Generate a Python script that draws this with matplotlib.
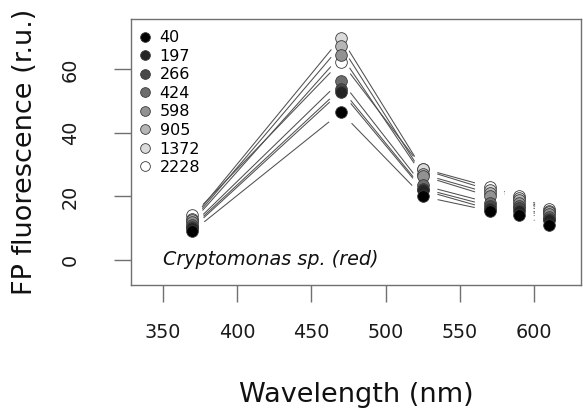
import matplotlib
matplotlib.use("Agg")
import matplotlib.pyplot as plt
import numpy as np
from matplotlib.lines import Line2D

# FluoroProbe excitation wavelengths and one spectrum per light level
wavelengths = [370, 470, 525, 570, 590, 610]
light_levels = ["40", "197", "266", "424", "598", "905", "1372", "2228"]

fp_40 = [9.0, 46.5, 20.0, 15.5, 14.0, 11.0]
fp_197 = [10.0, 53.0, 22.0, 16.0, 15.5, 12.5]
fp_266 = [10.5, 54.0, 22.5, 17.0, 16.5, 13.0]
fp_424 = [11.0, 56.5, 23.5, 18.0, 17.0, 13.5]
fp_598 = [12.0, 64.5, 26.5, 20.0, 18.0, 14.5]
fp_905 = [12.5, 67.5, 27.0, 21.0, 19.0, 15.0]
fp_1372 = [13.0, 70.0, 28.5, 22.0, 19.5, 15.5]
fp_2228 = [14.0, 62.5, 28.8, 23.0, 20.0, 16.0]

spectra = [fp_40, fp_197, fp_266, fp_424, fp_598, fp_905, fp_1372, fp_2228]
fills = ["#000000", "#242424", "#494949", "#6d6d6d",
         "#929292", "#b6b6b6", "#dbdbdb", "#ffffff"]

axis_grey = "#707070"


def gapped_lines(ax, x, y, gap_px, **kw):
    """Join points like R's type='b': segments stop short of each point."""
    pts = ax.transData.transform(np.column_stack([x, y]))
    inv = ax.transData.inverted()
    for p0, p1 in zip(pts[:-1], pts[1:]):
        d = np.hypot(*(p1 - p0))
        if d <= 2 * gap_px:
            continue
        u = (p1 - p0) / d
        seg = inv.transform([p0 + u * gap_px, p1 - u * gap_px])
        ax.plot(seg[:, 0], seg[:, 1], **kw)


fig = plt.figure(figsize=(5.83, 4.11), dpi=100)
ax = fig.add_axes([131 / 583, 1 - 285 / 411, 449.7 / 583, 266 / 411])
ax.set_xlim(328.7, 631.3)
ax.set_ylim(-7.9, 75.9)

for vals in spectra:
    gapped_lines(ax, wavelengths, vals, 15.2, color="#505050", lw=0.75,
                 solid_capstyle="butt", zorder=1)

# darkest series last so it sits on top
for vals, fc in reversed(list(zip(spectra, fills))):
    ax.plot(wavelengths, vals, linestyle="none", marker="o", markersize=8.4,
            markerfacecolor=fc, markeredgecolor="#3a3a3a",
            markeredgewidth=0.6, zorder=2)

handles = [Line2D([], [], linestyle="none", marker="o", markersize=7.0,
                  markerfacecolor=fc, markeredgecolor="#3a3a3a",
                  markeredgewidth=0.6) for fc in fills]
ax.legend(handles, light_levels, loc="upper left",
          bbox_to_anchor=(0.014, 0.957), frameon=False, fontsize=11.5,
          handlelength=1.0, handletextpad=0.4, labelspacing=0.22,
          borderpad=0, borderaxespad=0)

ax.text(350, 0, "Cryptomonas sp. (red)", style="italic", fontsize=13.8,
        va="center", ha="left", color="#111111")

ax.set_xticks([350, 400, 450, 500, 550, 600])
ax.set_yticks([0, 20, 40, 60])
ax.tick_params(axis="both", direction="out", length=12, width=1.0,
               color=axis_grey, labelsize=13.8, labelcolor="#1a1a1a")
ax.tick_params(axis="x", pad=15)
ax.tick_params(axis="y", pad=25, labelrotation=90)
for lbl in ax.get_yticklabels():
    lbl.set_va("center")

for spine in ax.spines.values():
    spine.set_color(axis_grey)
    spine.set_linewidth(1.0)

ax.set_xlabel("Wavelength (nm)", fontsize=19.5, color="#111111")
ax.set_ylabel("FP fluorescence (r.u.)", fontsize=19.5, color="#111111")
ax.xaxis.set_label_coords(0.5, -0.4135)
ax.yaxis.set_label_coords(-0.2357, 0.5)
ax.xaxis.label.set_va("center")
ax.yaxis.label.set_va("center")

fig.savefig("out.png", dpi=100)
